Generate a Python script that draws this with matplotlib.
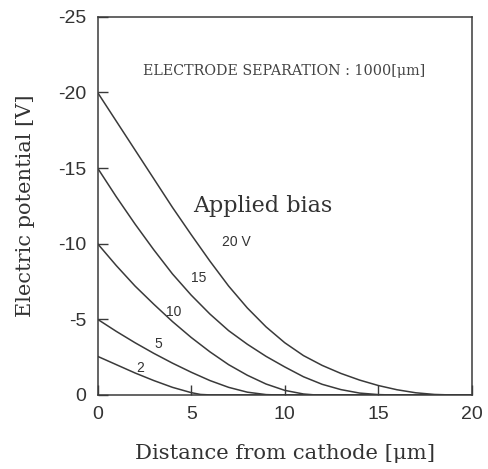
import numpy as np
import matplotlib
matplotlib.use('Agg')
from matplotlib import pyplot as plt

# distance from cathode [um] and potential [V]
x_20 = [0, 1, 2, 3, 4, 5, 6, 7, 8, 9, 10, 11, 12, 13, 14, 15, 16, 17, 18, 18.8, 20]
v_20 = [-20, -18.1, -16.2, -14.3, -12.4, -10.6, -8.85, -7.2, -5.75, -4.5, -3.45,
        -2.6, -1.95, -1.42, -0.98, -0.62, -0.34, -0.14, -0.03, 0, 0]

x_15 = [0, 1, 2, 3, 4, 5, 6, 7, 8, 9, 10, 11, 12, 13, 14, 15, 15.6, 20]
v_15 = [-15, -13.1, -11.3, -9.6, -8.0, -6.6, -5.35, -4.25, -3.35, -2.55, -1.85,
        -1.2, -0.7, -0.35, -0.12, -0.02, 0, 0]

x_10 = [0, 1, 2, 3, 4, 5, 6, 7, 8, 9, 10, 11, 11.6, 20]
v_10 = [-10, -8.55, -7.2, -6.0, -4.85, -3.8, -2.85, -2.0, -1.3, -0.72, -0.3, -0.06, 0, 0]

x_5 = [0, 1, 2, 3, 4, 5, 6, 7, 8, 9, 9.5, 20]
v_5 = [-5, -4.2, -3.45, -2.75, -2.1, -1.5, -0.95, -0.5, -0.18, -0.02, 0, 0]

x_2 = [0, 1, 2, 3, 4, 5, 5.5, 6, 20]
v_2 = [-2.55, -2.0, -1.45, -0.95, -0.5, -0.15, -0.03, 0, 0]

curve_labels = ['20 V', '15', '10', '5', '2']
label_x = [7.4, 5.38, 4.06, 3.23, 2.3]
label_y = [-10.1, -7.73, -5.45, -3.38, -1.77]

plt.rcParams['axes.unicode_minus'] = False
line_col = '#3a3a3a'
serif = 'DejaVu Serif'
sans = 'Liberation Sans'

fig = plt.figure(figsize=(4.88, 4.69), dpi=100)
ax = fig.add_axes([0.2, 0.158, 0.767, 0.806])

for xs, vs in [(x_20, v_20), (x_15, v_15), (x_10, v_10), (x_5, v_5), (x_2, v_2)]:
    ax.plot(xs, vs, color=line_col, lw=1.1)

for lab, lx, ly in zip(curve_labels, label_x, label_y):
    ax.text(lx, ly, lab, fontsize=10, family=sans, color='#333333', ha='center', va='center')

ax.text(8.85, -12.47, 'Applied bias', fontsize=16, family=serif, color='#333333',
        ha='center', va='center')
ax.text(9.98, -21.4, 'ELECTRODE SEPARATION : 1000[\u03bcm]', fontsize=10.3, family=serif,
        color='#444444', ha='center', va='center')

ax.set_xlim(0, 20)
ax.set_ylim(0, -25)
ax.set_xticks([0, 5, 10, 15, 20])
ax.set_yticks([0, -5, -10, -15, -20, -25])
ax.set_yticklabels(['0', '-5', '-10', '-15', '-20', '-25'])
ax.tick_params(direction='in', length=7, width=1, color=line_col, labelsize=14,
               labelcolor='#333333', pad=8)
for lbl in ax.get_xticklabels() + ax.get_yticklabels():
    lbl.set_family(sans)
for s in ax.spines.values():
    s.set_color(line_col)
    s.set_linewidth(1.1)

ax.set_xlabel('Distance from cathode [\u03bcm]', fontsize=15.2, family=serif, color='#333333',
              labelpad=15)
ax.set_ylabel('Electric potential [V]', fontsize=15, family=serif, color='#333333',
              labelpad=17)

fig.savefig('out.png', dpi=100)
